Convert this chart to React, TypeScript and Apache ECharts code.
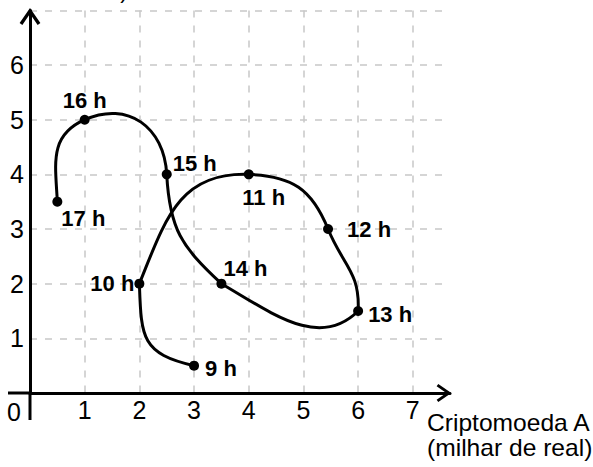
import React, { useEffect, useRef } from 'react';
import * as echarts from 'echarts';

// ---- data ----
const hours = ['9 h', '10 h', '11 h', '12 h', '13 h', '14 h', '15 h', '16 h', '17 h'];
const cryptoA = [3, 2, 4, 5.45, 6, 3.5, 2.5, 1, 0.5]; // x: Criptomoeda A (milhar de real)
const cryptoB = [0.5, 2, 4, 3, 1.5, 2, 4, 5, 3.5]; // y: Criptomoeda B (milhar de real)
// direction of travel of the drawn curve arriving at / leaving each point (degrees, data space)
const curveAngleIn = [167, 92, -2, -68, -93, 150, 93, 204, 273];
const curveAngleOut = [167, 68, -2, -68, -135, 137, 93, 204, 273];
// how far each drawn segment's bends reach, as a share of its chord
const segmentTension = [0.55, 0.45, 0.45, 0.45, 0.4, 0.45, 0.48, 0.45];
const xTickValues = [1, 2, 3, 4, 5, 6, 7];
const yTickValues = [1, 2, 3, 4, 5, 6];

const FONT = "'Liberation Sans', Arial, Helvetica, sans-serif";

const labelPlacement: Record<string, any> = {
  '9 h': { position: 'right', distance: 6, offset: [0, 3] },
  '10 h': { position: 'left', distance: 0, offset: [0, 0] },
  '11 h': { position: 'bottom', distance: 7, offset: [15, 0] },
  '12 h': { position: 'right', distance: 14, offset: [0, 0] },
  '13 h': { position: 'right', distance: 5, offset: [0, 3] },
  '14 h': { position: 'right', distance: 5, offset: [-8, -15] },
  '15 h': { position: 'right', distance: 1, offset: [0, -11] },
  '16 h': { position: 'top', distance: 3, offset: [0, 0] },
  '17 h': { position: 'right', distance: 5, offset: [-6, 17] },
};

const ARROW = 'path://M11,0 L22,16 L19.1,18 L11,6.2 L2.9,18 L0,16 Z';

export default function App() {
  const ref = useRef<HTMLDivElement>(null);
  useEffect(() => {
    const chart = echarts.init(ref.current!, null, { renderer: 'svg' });
    const points = cryptoA.map((x, i) => [x, cryptoB[i]]);
    const gridLine = { show: true, lineStyle: { color: '#c8c8c8', type: [7, 8], width: 1.5 } };
    const option: any = {
      animation: false,
      backgroundColor: '#fff',
      grid: { left: 30, right: 143, top: 10.4, bottom: 74, containLabel: false, outerBoundsMode: 'none' },
      xAxis: {
        type: 'value', min: 0, max: 7.68, interval: 1,
        axisLine: {
          show: true, onZero: true,
          lineStyle: { color: '#000', width: 3 },
          symbol: ['none', ARROW], symbolSize: [18, 18], symbolOffset: [0, -6],
        },
        axisTick: { show: false },
        axisLabel: {
          margin: 4, color: '#000', fontSize: 25, fontFamily: FONT,
          formatter: (v: number) => (xTickValues.includes(v) ? String(v) : ''),
        },
        splitLine: { ...gridLine, showMinLine: false, showMaxLine: false },
      },
      yAxis: {
        type: 'value', min: 0, max: 7, interval: 1,
        axisLine: {
          show: true, onZero: true,
          lineStyle: { color: '#000', width: 3 },
          symbol: ['none', ARROW], symbolSize: [22, 17], symbolOffset: [0, -6],
        },
        axisTick: { show: false },
        axisLabel: {
          margin: 6, color: '#000', fontSize: 25, fontFamily: FONT,
          formatter: (v: number) => (yTickValues.includes(v) ? String(v) : ''),
        },
        splitLine: { ...gridLine, showMinLine: false, showMaxLine: true },
      },
      series: [
        {
          type: 'custom',
          data: points,
          encode: { x: 0, y: 1 },
          z: 3,
          renderItem: (params: any, api: any) => {
            const i = params.dataIndex;
            if (i >= cryptoA.length - 1) return { type: 'group', children: [] };
            const p0 = [cryptoA[i], cryptoB[i]];
            const p1 = [cryptoA[i + 1], cryptoB[i + 1]];
            const h = Math.hypot(p1[0] - p0[0], p1[1] - p0[1]) * segmentTension[i];
            const a0 = (curveAngleOut[i] * Math.PI) / 180;
            const a1 = (curveAngleIn[i + 1] * Math.PI) / 180;
            const c0 = [p0[0] + Math.cos(a0) * h, p0[1] + Math.sin(a0) * h];
            const c1 = [p1[0] - Math.cos(a1) * h, p1[1] - Math.sin(a1) * h];
            const [A, B, C, D] = [p0, c0, c1, p1].map((p) => api.coord(p));
            return {
              type: 'path',
              shape: { pathData: `M${A[0]} ${A[1]} C${B[0]} ${B[1]} ${C[0]} ${C[1]} ${D[0]} ${D[1]}` },
              style: { fill: 'none', stroke: '#000', lineWidth: 3, lineCap: 'round' },
            };
          },
        },
        {
          type: 'scatter',
          z: 5,
          symbol: 'circle',
          symbolSize: 10,
          itemStyle: { color: '#000', opacity: 1 },
          data: points.map((p, i) => ({
            value: p,
            label: {
              show: true,
              formatter: hours[i],
              color: '#000',
              fontSize: 22,
              fontWeight: 'bold',
              fontFamily: FONT,
              ...labelPlacement[hours[i]],
            },
          })),
        },
      ],
    };
    chart.setOption(option);
    const o = chart.convertToPixel({ gridIndex: 0 }, [0, 0]) as number[];
    chart.setOption({
      graphic: [
        { type: 'line', shape: { x1: 8, y1: o[1], x2: o[0], y2: o[1] }, style: { stroke: '#000', lineWidth: 3 } },
        { type: 'line', shape: { x1: o[0], y1: o[1], x2: o[0], y2: o[1] + 27 }, style: { stroke: '#000', lineWidth: 3 } },
        {
          type: 'text', x: o[0] - 16, y: o[1] + 18.5,
          style: { text: '0', font: `25px ${FONT}`, fill: '#000', align: 'center', verticalAlign: 'middle' },
        },
        {
          type: 'text', x: 427, y: 410, scaleX: 1.07,
          style: {
            text: 'Criptomoeda A\n(milhar de real)', font: `23px ${FONT}`, lineHeight: 25,
            fill: '#000', align: 'left', verticalAlign: 'top',
          },
        },
        {
          type: 'text', x: 128, y: 1,
          style: { text: '(milhar de real)', font: `23px ${FONT}`, fill: '#000', align: 'right', verticalAlign: 'bottom' },
        },
      ],
    });
    return () => chart.dispose();
  }, []);
  return <div ref={ref} style={{ position: 'fixed', left: 0, top: 0, width: 593, height: 467 }} />;
}
